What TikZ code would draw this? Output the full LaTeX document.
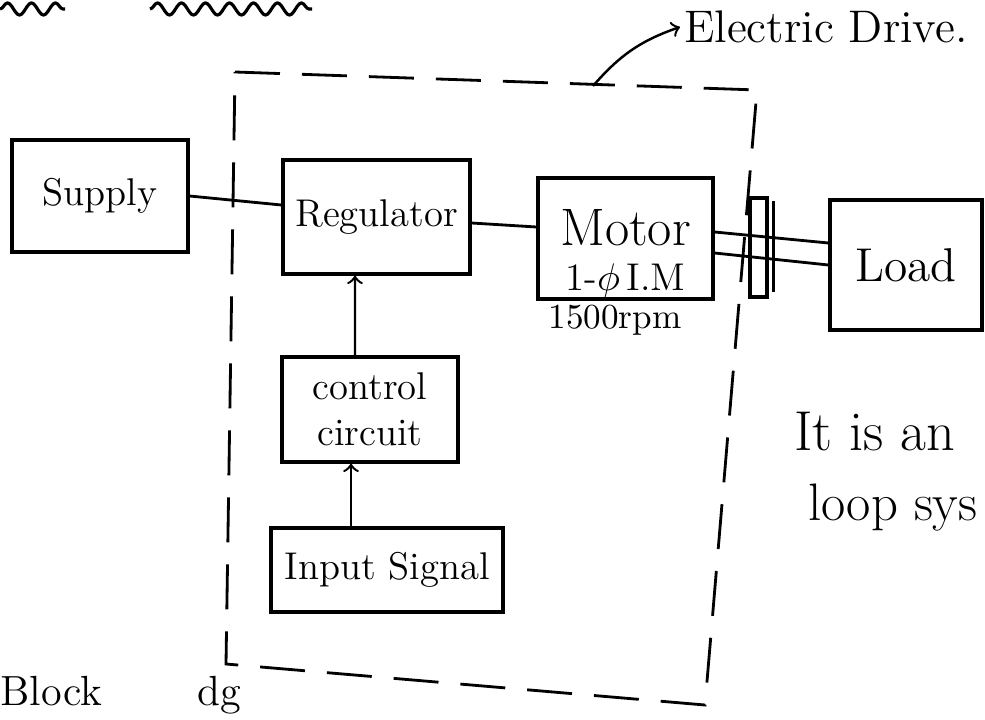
\documentclass[tikz,border=0pt]{standalone}
\usepackage{fontspec}
\usepackage{amsmath}
\usetikzlibrary{decorations.pathmorphing}

\begin{document}
\begin{tikzpicture}[
    node distance=1.3cm,
    block/.style={rectangle, draw, line width=0.9pt, inner sep=2pt,
        font=\fontsize{11}{13}\selectfont, align=center},
    note/.style={inner sep=1pt, font=\fontsize{13}{15}\selectfont},
    line/.style={line width=0.8pt},
    arrow/.style={->, line width=0.7pt},
    drivebox/.style={line width=0.8pt, dash pattern=on 0.45cm off 0.22cm},
    wavy/.style={line width=0.9pt, decorate,
        decoration={snake, amplitude=0.06cm, segment length=0.24cm}}
]
    \useasboundingbox (0,0) rectangle (9.85,-7.19);

    \node[block, minimum width=1.87cm, minimum height=1.14cm] (reg) at (3.765,-2.17) {Regulator};
    \node[block, minimum width=1.76cm, minimum height=1.12cm, left of=reg, xshift=-1.465cm, yshift=0.21cm] (supply) {Supply};
    \node[block, minimum width=1.75cm, minimum height=1.21cm, right of=reg, xshift=1.19cm, yshift=-0.215cm] (motor) {};
    \node[block, minimum width=1.52cm, minimum height=1.30cm, right of=motor, xshift=1.505cm, yshift=-0.265cm,
        font=\fontsize{13.5}{15}\selectfont] (load) {Load};
    \node[block, minimum width=0.17cm, minimum height=0.99cm, right of=motor, xshift=0.03cm, yshift=-0.09cm] (coup) {};
    \node[block, minimum width=1.76cm, minimum height=1.05cm, below of=reg, xshift=-0.065cm, yshift=-0.625cm] (ctrl) {control\\circuit};
    \node[block, minimum width=2.32cm, minimum height=0.84cm, below of=ctrl, xshift=0.17cm, yshift=-0.305cm] (input) {Input Signal};

    \node[note, font=\fontsize{15}{17}\selectfont] (motortxt) at ([yshift=0.105cm]motor.center) {Motor};
    \node[note, font=\fontsize{11}{13}\selectfont] (motorim) at ([yshift=-0.42cm]motor.center) {1-$\phi$\,I.M};
    \node[note, font=\fontsize{10}{12}\selectfont, below of=motor, xshift=-0.105cm, yshift=0.485cm] (rpm) {1500rpm};

    \draw[line] (supply.east) -- ([yshift=0.12cm]reg.west);
    \draw[line] ([yshift=-0.06cm]reg.east) -- ([yshift=0.115cm]motor.west);
    \draw[line] ([yshift=0.065cm]motor.east) -- ([yshift=0.22cm]load.west);
    \draw[line] ([yshift=-0.145cm]motor.east) -- (load.west);
    \draw[line] ([xshift=0.05cm, yshift=-0.05cm]coup.north east) -- ([xshift=0.05cm, yshift=0.07cm]coup.south east);
    \draw[arrow] ([xshift=-0.15cm]ctrl.north) -- ([xshift=-0.215cm]reg.south);
    \draw[arrow] ([xshift=-0.36cm]input.north) -- ([xshift=-0.19cm]ctrl.south);

    \draw[drivebox] (2.35,-0.72) -- (7.57,-0.90) -- (7.05,-7.05) -- (2.26,-6.64) -- cycle;
    \node[note, anchor=west] (edrive) at (6.80,-0.27) {Electric Drive.};
    \coordinate (edtap) at (5.93,-0.86);
    \draw[arrow] (edtap) to[bend left=15] (edrive.west);

    \node[note, anchor=west, font=\fontsize{16}{18}\selectfont] (openloop) at (7.90,-4.32) {It is an};
    \node[note, anchor=west, font=\fontsize{15}{17}\selectfont] (loopsys) at (8.04,-5.08) {loop sys};
    \node[note, anchor=south west, inner sep=0pt, font=\fontsize{12}{14}\selectfont] (blockdg) at (0,-7.15) {Block\hspace{0.95cm}dg};

    \draw[wavy] (0,-0.09) -- (0.65,-0.09);
    \draw[wavy] (1.50,-0.09) -- (3.12,-0.09);
\end{tikzpicture}
\end{document}
